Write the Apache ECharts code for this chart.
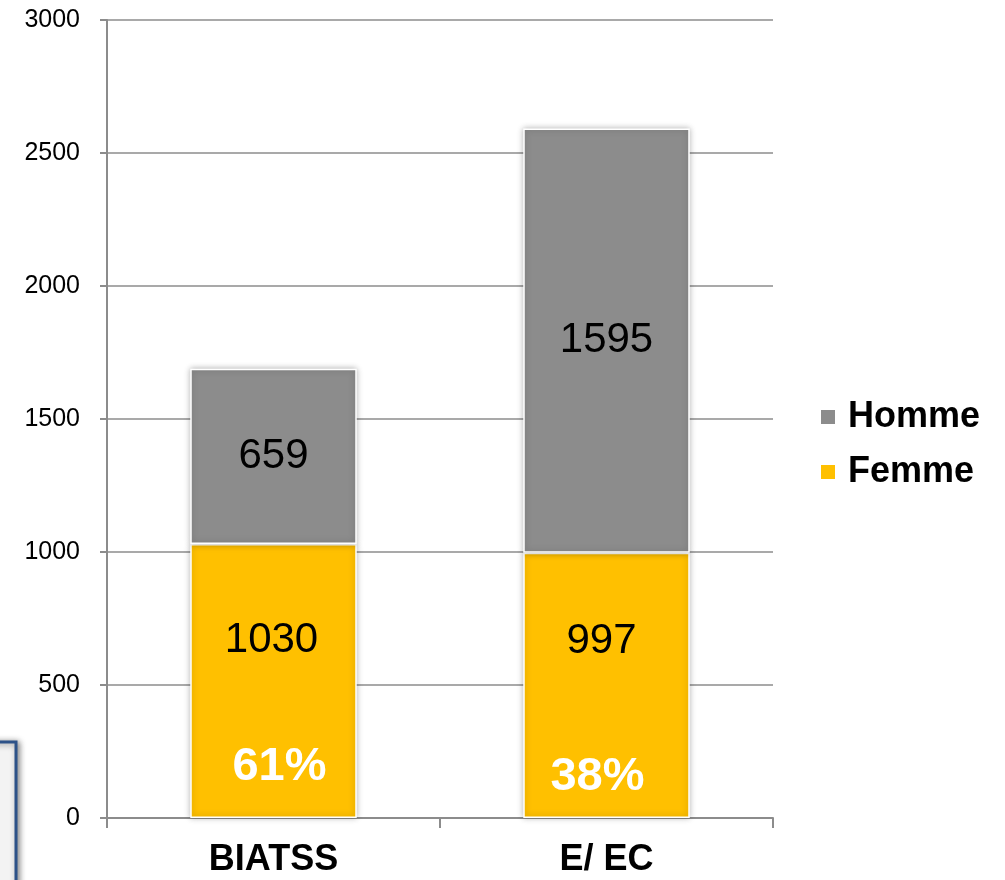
<!DOCTYPE html>
<html>
<head>
<meta charset="utf-8">
<script src="https://cdn.jsdelivr.net/npm/echarts@6/dist/echarts.min.js"></script>
<style>html,body{margin:0;padding:0;background:#fff}#c{width:1005px;height:880px}</style>
</head>
<body>
<div id="c"></div>
<script>
const categories = ['BIATSS', 'E/ EC'];
const femme = [1030, 997];
const homme = [659, 1595];
const femmePct = ['61%', '38%'];
const yTicks = { min: 0, max: 3000, interval: 500 };

const chart = echarts.init(document.getElementById('c'));
const font = '"Liberation Sans", Arial, sans-serif';
const barStyle = (color) => ({
  color: color, borderColor: '#ffffff', borderWidth: 1.5,
  shadowBlur: 6, shadowColor: 'rgba(0,0,0,0.28)'
});

chart.setOption({
  animation: false,
  backgroundColor: '#ffffff',
  textStyle: { fontFamily: font },
  graphic: [{
    type: 'rect', z: 100,
    shape: { x: -30, y: 742, width: 46, height: 200 },
    style: { fill: '#f3f3f3', stroke: '#2d5288', lineWidth: 3,
      shadowBlur: 6, shadowColor: 'rgba(0,0,0,0.45)', shadowOffsetX: 2, shadowOffsetY: 1 }
  }],
  grid: { left: 107, right: 232, top: 20, bottom: 62, containLabel: false },
  legend: {
    orient: 'vertical', left: 819, top: 397, padding: 0,
    data: ['Homme', 'Femme'],
    icon: 'rect', itemWidth: 16, itemHeight: 16, itemGap: 15,
    textStyle: { fontSize: 36, fontWeight: 'bold', color: '#000', fontFamily: font,
      lineHeight: 40, padding: [0, 0, 0, 7] }
  },
  xAxis: {
    type: 'category', data: categories,
    axisLine: { lineStyle: { color: '#8c8c8c', width: 2 } },
    axisTick: { show: true, alignWithLabel: false, length: 10, lineStyle: { color: '#8c8c8c', width: 2 } },
    axisLabel: { margin: 24, fontSize: 36, fontWeight: 'bold', color: '#000', fontFamily: font }
  },
  yAxis: {
    type: 'value', min: yTicks.min, max: yTicks.max, interval: yTicks.interval,
    axisLine: { show: true, lineStyle: { color: '#8c8c8c', width: 2 } },
    axisTick: { show: true, length: 7, lineStyle: { color: '#8c8c8c', width: 2 } },
    axisLabel: { margin: 27, fontSize: 25, color: '#000', fontFamily: font, formatter: (v) => String(v) },
    splitLine: { show: true, lineStyle: { color: '#8c8c8c', width: 1.5 } }
  },
  series: [
    {
      name: 'Femme', type: 'bar', stack: 'total', barWidth: '50%',
      itemStyle: barStyle('#ffc000'),
      data: femme.map((v, i) => ({ value: v, label: { distance: i === 0 ? 26 : 16 } })),
      label: {
        show: true, position: 'insideBottom',
        formatter: (p) => '{v' + p.dataIndex + '|' + p.value + '}\n{p' + p.dataIndex + '|' + femmePct[p.dataIndex] + '}',
        rich: {
          v0: { fontSize: 42, color: '#000', fontFamily: font, lineHeight: 204, padding: [0, 4, 0, 0] },
          v1: { fontSize: 42, color: '#000', fontFamily: font, lineHeight: 222, padding: [0, 10, 0, 0] },
          p0: { fontSize: 47, fontWeight: 'bold', color: '#fff', fontFamily: font, lineHeight: 50, padding: [0, 0, 0, 12] },
          p1: { fontSize: 47, fontWeight: 'bold', color: '#fff', fontFamily: font, lineHeight: 50, padding: [0, 18, 0, 0] }
        }
      }
    },
    {
      name: 'Homme', type: 'bar', stack: 'total', barWidth: '50%',
      itemStyle: barStyle('#8c8c8c'),
      data: homme,
      label: { show: true, position: 'inside', fontSize: 42, color: '#000', fontFamily: font }
    }
  ]
});
</script>
</body>
</html>
